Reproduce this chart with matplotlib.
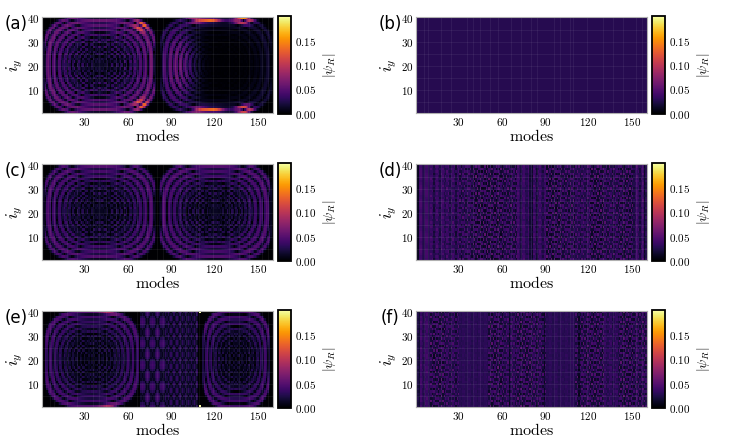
import numpy as np
import matplotlib
matplotlib.use('Agg')
import matplotlib.pyplot as plt

plt.rcParams['mathtext.fontset'] = 'cm'

#========================================== Data =========================================
modes = np.arange(1, 161)
iy = np.arange(1, 41)

panel_labels = ['(a)', '(b)', '(c)', '(d)', '(e)', '(f)']
x_ticks = [30, 60, 90, 120, 150]
y_ticks = [10, 20, 30, 40]
cbar_ticks = [0.00, 0.05, 0.10, 0.15]
vmax = 0.2

# ring blocks: x centre, y centre, half width, half height, ring phase, centre level, edge level, edge power
rings_a = [[40.5, 20.5, 39.0, 20.0, 42.0, 0.032, 0.034, 2],
           [121.0, 20.5, 39.0, 20.0, 42.0, 0.003, 0.020, 4]]
rings_c = [[40.5, 20.5, 39.0, 20.0, 42.0, 0.028, 0.026, 2],
           [120.5, 20.5, 39.0, 20.0, 42.0, 0.028, 0.026, 2]]
rings_e = [[35.0, 20.5, 33.0, 20.0, 40.0, 0.024, 0.024, 2],
           [135.0, 20.5, 23.5, 20.0, 32.0, 0.022, 0.026, 2]]

# bright spots on top of the ring envelope: x, y, spread x, spread y, level
hot_a = [[70, 37, 5, 2.5, 0.10], [70, 4, 5, 2.5, 0.10],
         [95, 20, 12, 16, 0.06],
         [108, 39.5, 6, 1.8, 0.10], [118, 40, 7, 1.6, 0.17], [140, 39.5, 7, 1.8, 0.17],
         [110, 1.5, 6, 1.8, 0.10], [120, 1, 7, 1.6, 0.17], [141, 2, 6, 1.8, 0.15]]
hot_e = [[47, 40, 6, 1.0, 0.05], [47, 1, 6, 1.0, 0.05]]

# diamond lattices in (e): x from, x to, period x, period y, level
diamonds_e = [[69, 87, 7.0, 9.0, 0.042], [87, 109, 4.0, 5.0, 0.034]]
# single cells in (e): x, y, value
cells_e = [[110, 40, 0.20], [110, 1, 0.20]]

level_b = 0.028

# banded textures per block of 10 modes: checker share, stripe share
checker_d = [0.0, 0.3, 0.4, 0.7, 1.0, 1.0, 0.8, 0.2, 0.3, 1.0, 0.8, 0.6, 1.0, 0.7, 0.9, 0.3]
stripe_d = [1.0, 0.7, 0.6, 0.3, 0.0, 0.0, 0.2, 0.8, 0.7, 0.0, 0.2, 0.4, 0.0, 0.3, 0.1, 0.7]
checker_f = [0.2, 0.9, 0.6, 0.1, 0.1, 0.9, 0.6, 0.9, 0.7, 0.1, 0.1, 0.8, 0.9, 0.3, 0.9, 0.7]
stripe_f = [0.8, 0.1, 0.3, 0.2, 0.2, 0.1, 0.4, 0.1, 0.3, 0.2, 0.2, 0.2, 0.1, 0.4, 0.1, 0.3]
dark_cols_d = [2, 79, 81, 158]
dark_cols_f = [3, 65, 89, 113]

# faint overlay lines
grid_cols = [6, 9, 18, 25, 36, 40, 45, 52, 57, 66, 73, 80, 84, 96, 100, 107, 109,
             119, 130, 137, 144, 153, 157]
grid_rows = [5, 10, 15, 20, 25, 30, 35]

#========================================== Fields =========================================
X, Y = np.meshgrid(modes, iy)


def ring_block(field, pars):
    x0, y0, w, h, k, c0, c1, p = pars
    u = np.abs(X - x0) / w
    v = np.abs(Y - y0) / h
    r2 = np.hypot(u, v)
    q = 2 + 0.9 * np.clip(r2, 0, 1.2) ** 2
    rho = (u ** q + v ** q) ** (1 / q)
    ring = np.abs(np.cos(k * (rho - 0.12 * rho ** 3))) ** 0.8
    diag = np.abs(np.cos(0.8 * k * (u - v)))
    mix = np.clip((0.75 - rho) / 0.3, 0, 1)
    cut = np.where(rho <= 1, 1.0, np.exp(-((rho - 1) / 0.04) ** 2))
    cut = cut * np.clip((1.0 - u) / 0.04, 0, 1)
    env = c0 + c1 * rho ** p
    pattern = ring * (1 - mix + mix * (0.15 + 0.85 * diag))
    return field + env * pattern * cut, ring * cut


def add_hot(field, ring, spots):
    for x0, y0, sx, sy, a in spots:
        field = field + a * ring * np.exp(-((X - x0) / sx) ** 2 - ((Y - y0) / sy) ** 2)
    return field


def banded(checker_w, stripe_w, dark_cols):
    cw = np.repeat(checker_w, 10)[None, :]
    sw = np.repeat(stripe_w, 10)[None, :]
    checker = np.abs(np.cos(np.pi * X / 2.1 + 0.9 * Y) * np.cos(1.7 * Y - 0.45 * X))
    stripes = 0.4 + 0.6 * np.abs(np.cos(2.3 * X)) * (0.7 + 0.3 * np.abs(np.cos(0.5 * Y + 0.2 * X)))
    f = (1 - cw - sw).clip(0) * 0.028 + cw * (0.01 + 0.045 * checker) + sw * 0.045 * stripes
    for c in dark_cols:
        f[:, c - 1] *= 0.5
    return f


# (a)
fa = np.zeros_like(X, dtype=float)
fa, r1 = ring_block(fa, rings_a[0])
fa, r2 = ring_block(fa, rings_a[1])
fa = add_hot(fa, r1 + r2, hot_a)

# (b)
fb = np.full(X.shape, level_b)

# (c)
fc = np.zeros_like(X, dtype=float)
for pars in rings_c:
    fc, _ = ring_block(fc, pars)

# (d)
fd = banded(checker_d, stripe_d, dark_cols_d)

# (e)
fe = np.zeros_like(X, dtype=float)
fe, r1 = ring_block(fe, rings_e[0])
fe, r2 = ring_block(fe, rings_e[1])
fe = add_hot(fe, r1, hot_e)
for x1, x2, px, py, a in diamonds_e:
    sel = (X >= x1) & (X < x2)
    d = np.abs(np.cos(np.pi * (X / px + Y / py)) * np.cos(np.pi * (X / px - Y / py))) ** 0.7
    fe = np.where(sel, fe + a * (0.15 + 0.85 * d), fe)
fe[:, 109] = 0.0
for x, y, val in cells_e:
    fe[y - 1, x - 1] = val

# (f)
ff = banded(checker_f, stripe_f, dark_cols_f)

fields = [fa, fb, fc, fd, fe, ff]

#========================================== Plot =========================================
fig = plt.figure(figsize=(7.47, 4.4), dpi=100)
W, H = 747, 440

col_left = [42, 416]
row_top = [17, 164, 311]
ax_w, ax_h = 231, 96

for n, field in enumerate(fields):
    r, c = divmod(n, 2)
    x0 = col_left[c]
    y0 = row_top[r]
    ax = fig.add_axes([x0 / W, (H - y0 - ax_h) / H, ax_w / W, ax_h / H])
    im = ax.imshow(field, origin='lower', cmap='inferno', vmin=0, vmax=vmax,
                   extent=(0.5, 160.5, 0.5, 40.5), aspect='auto', interpolation='nearest')
    for gx in grid_cols:
        ax.axvline(gx, color='white', alpha=0.07, lw=0.6)
    for gy in grid_rows:
        ax.axhline(gy, color='white', alpha=0.07, lw=0.6)
    ax.set_xlim(0.5, 160.5)
    ax.set_ylim(0.5, 40.5)
    ax.set_xticks(x_ticks, [f'${t}$' for t in x_ticks])
    ax.set_yticks(y_ticks, [f'${t}$' for t in y_ticks])
    ax.tick_params(length=0, labelsize=8, pad=2)
    for s in ax.spines.values():
        s.set_color('#b0b0b0')
        s.set_linewidth(0.8)
    ax.set_xlabel(r'$\mathrm{modes}$', fontsize=11.5, labelpad=0.5)
    ax.set_ylabel(r'$i_y$', fontsize=12, labelpad=1)

    cax = fig.add_axes([(x0 + ax_w + 5) / W, (H - y0 - ax_h - 1) / H, 13 / W, (ax_h + 2) / H])
    cb = fig.colorbar(im, cax=cax)
    cb.set_ticks(cbar_ticks)
    cb.set_ticklabels([f'${t:.2f}$' for t in cbar_ticks])
    cb.ax.tick_params(length=0, labelsize=8, pad=3)
    cb.outline.set_linewidth(1.3)
    cb.set_label(r'$|\psi_R|$', fontsize=10, labelpad=3)

    fig.text((x0 - 26) / W, (H - y0 - 7) / H, panel_labels[n], fontsize=12,
             ha='center', va='center')

fig.savefig('out.png', dpi=100)
